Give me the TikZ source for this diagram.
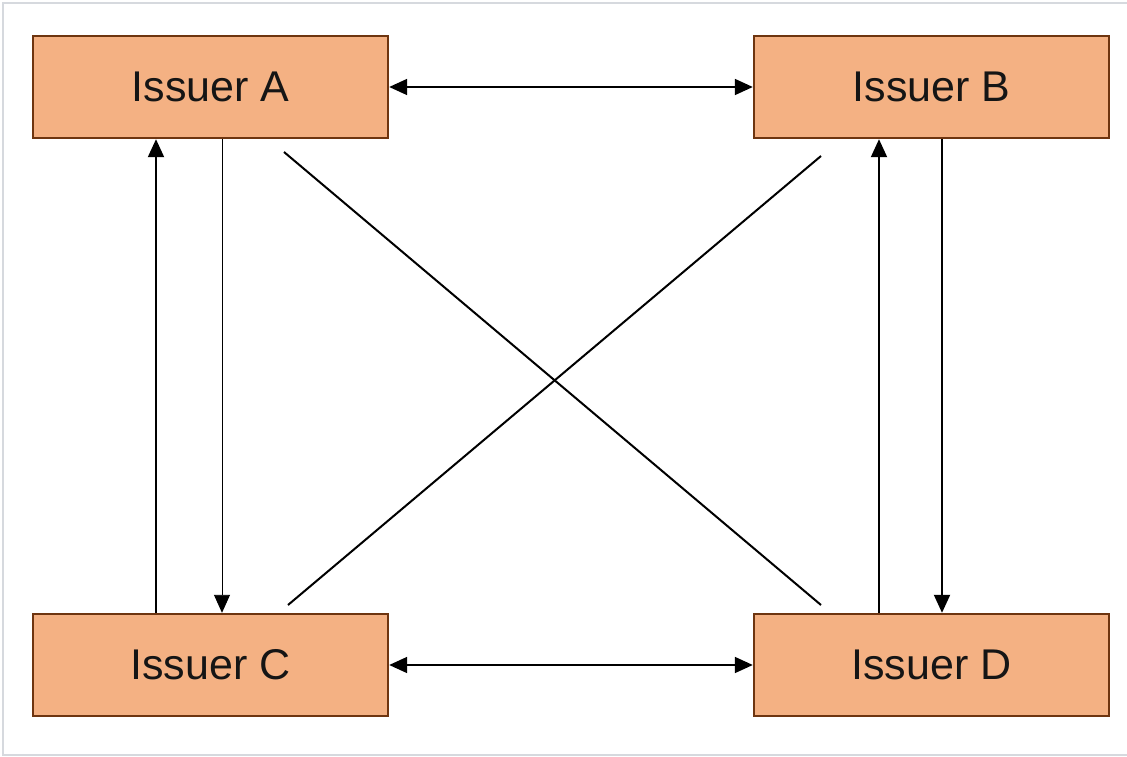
\documentclass[tikz,border=0pt]{standalone}
\usepackage{fontspec}
\setmainfont{Liberation Sans}
\usetikzlibrary{arrows.meta}
\definecolor{boxfill}{HTML}{F4B183}
\definecolor{boxline}{HTML}{6E3510}
\definecolor{framegray}{HTML}{D6D9DE}
\definecolor{txt}{HTML}{151515}
\begin{document}
\begin{tikzpicture}[x=1pt,y=-1pt,
  issuer/.style={draw=boxline,line width=2.4pt,fill=boxfill,minimum width=355pt,minimum height=102pt,inner sep=0pt,
    text=txt,font=\fontsize{43}{50}\selectfont},
  conn/.style={line width=1.8pt,black},
  tip/.style={-{Triangle[length=18pt,width=16pt]}},
  tips/.style={{Triangle[length=18pt,width=16pt]}-{Triangle[length=18pt,width=16pt]}}]
\useasboundingbox (0,0) rectangle (1127,757);
\fill[white] (0,0) rectangle (1127,757);
\draw[framegray,line width=2pt] (1127,3.5) -- (2.5,3.5) -- (2.5,755) -- (1127,755);
\node[issuer] (A) at (210.5,87) {Issuer A};
\node[issuer] (B) at (931.5,87) {Issuer B};
\node[issuer] (C) at (210.5,665) {Issuer C};
\node[issuer] (D) at (931.5,665) {Issuer D};
\draw[conn,tips] (A.east) -- (B.west);
\draw[conn,tips] (C.east) -- (D.west);
\draw[conn,tip,line width=2pt] (C.north -| 156,0) -- (A.south -| 156,0);
\draw[conn,tip,line width=0.9pt] (A.south -| 222,0) -- (C.north -| 222,0);
\draw[conn,tip,line width=2pt] (D.north -| 879,0) -- (B.south -| 879,0);
\draw[conn,tip,line width=2pt] (B.south -| 942,0) -- (D.north -| 942,0);
\coordinate (a1) at (284,152);
\coordinate (d1) at (821,605);
\coordinate (b1) at (821,156);
\coordinate (c1) at (288,605);
\draw[conn,line width=2pt] (a1) -- (d1);
\draw[conn,line width=2pt] (b1) -- (c1);
\end{tikzpicture}
\end{document}
